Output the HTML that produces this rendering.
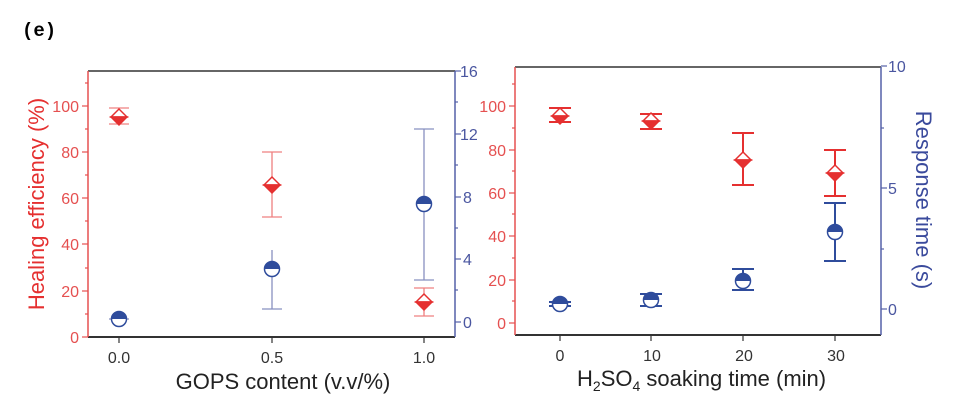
<!DOCTYPE html>
<html><head><meta charset="utf-8"><style>
body{margin:0;background:#fff;}
svg{display:block;font-family:"Liberation Sans",sans-serif;}
</style></head><body>
<svg width="960" height="405" viewBox="0 0 960 405">
<defs>
<g id="dR"><path d="M-8,0 L0,-8 L8,0 Z" fill="#fff" stroke="#e53030" stroke-width="1.5"/><path d="M-8,0 L0,8 L8,0 Z" fill="#e53030" stroke="#e53030" stroke-width="1.5"/></g>
<g id="cB"><path d="M-7.5,0 A7.5,7.5 0 0 1 7.5,0 Z" fill="#2f4c9c"/><path d="M-7.5,0 A7.5,7.5 0 0 0 7.5,0 Z" fill="#fff"/><circle r="7.5" fill="none" stroke="#2f4c9c" stroke-width="1.5"/></g>
</defs>
<text x="22" y="36" font-family="Liberation Mono,monospace" font-weight="bold" font-size="19">(e)</text>

<!-- LEFT CHART -->
<g>
<line x1="88" y1="71" x2="455" y2="71" stroke="#333" stroke-width="1.5"/>
<line x1="88" y1="337" x2="455" y2="337" stroke="#333" stroke-width="2"/>
<line x1="88" y1="71" x2="88" y2="337" stroke="#e55050" stroke-width="1.5"/>
<line x1="455" y1="71" x2="455" y2="337" stroke="#5560a8" stroke-width="1.5"/>
<g stroke="#e55050" stroke-width="1.2">
<line x1="82" y1="337" x2="88" y2="337"/><line x1="82" y1="291" x2="88" y2="291"/><line x1="82" y1="244" x2="88" y2="244"/><line x1="82" y1="198" x2="88" y2="198"/><line x1="82" y1="152" x2="88" y2="152"/><line x1="82" y1="106" x2="88" y2="106"/>
<line x1="85" y1="314" x2="88" y2="314"/><line x1="85" y1="268" x2="88" y2="268"/><line x1="85" y1="221" x2="88" y2="221"/><line x1="85" y1="175" x2="88" y2="175"/><line x1="85" y1="129" x2="88" y2="129"/><line x1="85" y1="83" x2="88" y2="83"/>
</g>
<g fill="#e55050" font-size="16" text-anchor="end">
<text x="79" y="343">0</text><text x="79" y="297">20</text><text x="79" y="250">40</text><text x="79" y="204">60</text><text x="79" y="158">80</text><text x="79" y="112">100</text>
</g>
<g stroke="#5560a8" stroke-width="1.2">
<line x1="455" y1="322" x2="461" y2="322"/><line x1="455" y1="259" x2="461" y2="259"/><line x1="455" y1="197" x2="461" y2="197"/><line x1="455" y1="134" x2="461" y2="134"/><line x1="455" y1="71" x2="461" y2="71"/>
<line x1="455" y1="290" x2="458" y2="290"/><line x1="455" y1="228" x2="458" y2="228"/><line x1="455" y1="165" x2="458" y2="165"/><line x1="455" y1="102" x2="458" y2="102"/>
</g>
<g fill="#4a56a0" font-size="16">
<text x="463" y="328">0</text><text x="463" y="265">4</text><text x="463" y="203">8</text><text x="460" y="140">12</text><text x="460" y="77">16</text>
</g>
<g stroke="#333" stroke-width="1.2"><line x1="119" y1="337" x2="119" y2="343"/><line x1="272" y1="337" x2="272" y2="343"/><line x1="424" y1="337" x2="424" y2="343"/></g>
<g font-size="16" fill="#333" text-anchor="middle"><text x="119" y="363">0.0</text><text x="272" y="363">0.5</text><text x="424" y="363">1.0</text></g>
<text x="283" y="389" font-size="22" text-anchor="middle" fill="#222">GOPS content (v.v/%)</text>
<text transform="translate(44,204) rotate(-90)" font-size="22" text-anchor="middle" fill="#e53030">Healing efficiency (%)</text>
<g stroke="#ef8080" stroke-width="1.3">
<line x1="119" y1="108" x2="119" y2="124"/><line x1="109" y1="108" x2="129" y2="108"/><line x1="109" y1="124" x2="129" y2="124"/>
<line x1="272" y1="152" x2="272" y2="217"/><line x1="262" y1="152" x2="282" y2="152"/><line x1="262" y1="217" x2="282" y2="217"/>
<line x1="424" y1="288" x2="424" y2="316"/><line x1="414" y1="288" x2="434" y2="288"/><line x1="414" y1="316" x2="434" y2="316"/>
</g>
<g stroke="#8890c0" stroke-width="1.3">
<line x1="109" y1="319" x2="129" y2="319"/>
<line x1="272" y1="250" x2="272" y2="309"/><line x1="262" y1="309" x2="282" y2="309"/>
<line x1="424" y1="129" x2="424" y2="280"/><line x1="414" y1="129" x2="434" y2="129"/><line x1="414" y1="280" x2="434" y2="280"/>
</g>
<use href="#dR" x="119" y="117"/><use href="#dR" x="272" y="185"/><use href="#dR" x="424" y="302"/>
<use href="#cB" x="119" y="319"/><use href="#cB" x="272" y="269"/><use href="#cB" x="424" y="204"/>
</g>

<!-- RIGHT CHART -->
<g>
<line x1="515" y1="67" x2="881" y2="67" stroke="#333" stroke-width="1.5"/>
<line x1="515" y1="335" x2="881" y2="335" stroke="#333" stroke-width="2"/>
<line x1="515" y1="67" x2="515" y2="335" stroke="#e55050" stroke-width="1.5"/>
<line x1="881" y1="67" x2="881" y2="335" stroke="#5560a8" stroke-width="1.5"/>
<g stroke="#e55050" stroke-width="1.2">
<line x1="509" y1="323" x2="515" y2="323"/><line x1="509" y1="280" x2="515" y2="280"/><line x1="509" y1="236" x2="515" y2="236"/><line x1="509" y1="193" x2="515" y2="193"/><line x1="509" y1="150" x2="515" y2="150"/><line x1="509" y1="106" x2="515" y2="106"/>
<line x1="512" y1="301" x2="515" y2="301"/><line x1="512" y1="258" x2="515" y2="258"/><line x1="512" y1="214" x2="515" y2="214"/><line x1="512" y1="171" x2="515" y2="171"/><line x1="512" y1="128" x2="515" y2="128"/><line x1="512" y1="84" x2="515" y2="84"/>
</g>
<g fill="#e55050" font-size="16" text-anchor="end">
<text x="506" y="329">0</text><text x="506" y="286">20</text><text x="506" y="242">40</text><text x="506" y="199">60</text><text x="506" y="156">80</text><text x="506" y="112">100</text>
</g>
<g stroke="#5560a8" stroke-width="1.2">
<line x1="881" y1="309" x2="887" y2="309"/><line x1="881" y1="188" x2="887" y2="188"/><line x1="881" y1="66" x2="887" y2="66"/>
<line x1="881" y1="249" x2="884" y2="249"/><line x1="881" y1="128" x2="884" y2="128"/>
</g>
<g fill="#4a56a0" font-size="16"><text x="888" y="315">0</text><text x="888" y="194">5</text><text x="888" y="72">10</text></g>
<g stroke="#333" stroke-width="1.2"><line x1="560" y1="335" x2="560" y2="341"/><line x1="651" y1="335" x2="651" y2="341"/><line x1="743" y1="335" x2="743" y2="341"/><line x1="835" y1="335" x2="835" y2="341"/></g>
<g font-size="16" fill="#333" text-anchor="middle"><text x="560" y="361">0</text><text x="652" y="361">10</text><text x="744" y="361">20</text><text x="836" y="361">30</text></g>
<text x="577" y="386" font-size="22" fill="#222">H<tspan font-size="14" dy="5">2</tspan><tspan dy="-5">SO</tspan><tspan font-size="14" dy="5">4</tspan><tspan dy="-5"> soaking time (min)</tspan></text>
<text transform="translate(916,200) rotate(90)" font-size="22" text-anchor="middle" fill="#3a4a9c">Response time (s)</text>
<g stroke="#e53030" stroke-width="2">
<line x1="560" y1="108" x2="560" y2="122"/><line x1="549" y1="108" x2="571" y2="108"/><line x1="549" y1="122" x2="571" y2="122"/>
<line x1="651" y1="114" x2="651" y2="129"/><line x1="640" y1="114" x2="662" y2="114"/><line x1="640" y1="129" x2="662" y2="129"/>
<line x1="743" y1="133" x2="743" y2="185"/><line x1="732" y1="133" x2="754" y2="133"/><line x1="732" y1="185" x2="754" y2="185"/>
<line x1="835" y1="150" x2="835" y2="196"/><line x1="824" y1="150" x2="846" y2="150"/><line x1="824" y1="196" x2="846" y2="196"/>
</g>
<g stroke="#2f4c9c" stroke-width="2">
<line x1="549" y1="302" x2="571" y2="302"/><line x1="549" y1="306" x2="571" y2="306"/>
<line x1="651" y1="294" x2="651" y2="306"/><line x1="640" y1="294" x2="662" y2="294"/><line x1="640" y1="306" x2="662" y2="306"/>
<line x1="743" y1="269" x2="743" y2="290"/><line x1="732" y1="269" x2="754" y2="269"/><line x1="732" y1="290" x2="754" y2="290"/>
<line x1="835" y1="203" x2="835" y2="261"/><line x1="824" y1="203" x2="846" y2="203"/><line x1="824" y1="261" x2="846" y2="261"/>
</g>
<use href="#dR" x="560" y="116"/><use href="#dR" x="651" y="121"/><use href="#dR" x="743" y="160"/><use href="#dR" x="835" y="173"/>
<use href="#cB" x="560" y="304"/><use href="#cB" x="651" y="300"/><use href="#cB" x="743" y="281"/><use href="#cB" x="835" y="232"/>
</g>
</svg>
</body></html>
